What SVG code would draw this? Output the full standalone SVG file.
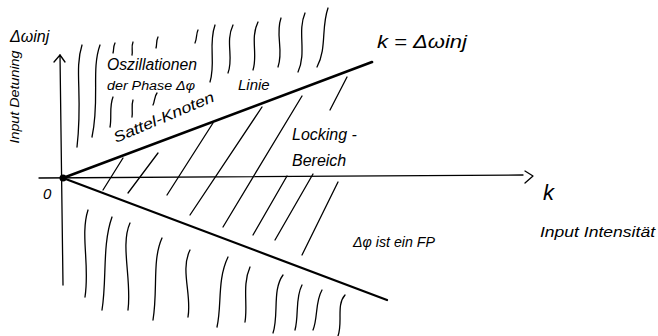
<svg xmlns="http://www.w3.org/2000/svg" width="658" height="336" viewBox="0 0 658 336">
<style>
.ln{fill:none;stroke:#000;stroke-width:1.3;stroke-linecap:round;stroke-linejoin:round}
.bd{fill:none;stroke:#000;stroke-width:2.6;stroke-linecap:round}
.t{font-family:"Liberation Sans","DejaVu Sans",sans-serif;font-style:italic;fill:#000}
</style>
<rect width="658" height="336" fill="#fff"/>
<g id="connectors">
  <g id="axes">
    <path class="ln" d="M63,285 L60,55"/>
    <path class="ln" d="M54,62 L60,55 L65,62"/>
    <path class="ln" d="M39,178 L523,175"/>
    <path class="ln" d="M525,171 L533,176 L525,183"/>
  </g>
  <g id="boundaries">
    <path class="bd" d="M63,178 L372,62"/>
    <path class="bd" style="stroke-width:2.2" d="M63,178 L387,300"/>
  </g>
  <g id="hatch">
    <path class="ln" d="M103,190 L123,158"/>
    <path class="ln" d="M128,193 L158,153"/>
    <path class="ln" d="M167,195 L213,123"/>
    <path class="ln" d="M190,215 L262,107"/>
    <path class="ln" d="M223,227 L302,96"/>
    <path class="ln" d="M253,235 L287,176"/>
    <path class="ln" d="M275,240 L313,174"/>
    <path class="ln" d="M302,255 L338,182"/>
    <path class="ln" d="M330,110 L347,77"/>
  </g>
  <g id="waves-upper">
    <path class="ln" d="M82,45 C74,70 83,95 77,147"/>
    <path class="ln" d="M100,45 C91,70 100,100 92,137"/>
    <path class="ln" d="M115,43 C113,47 114,50 113,53"/>
    <path class="ln" d="M133,42 C131,47 133,51 132,55"/>
    <path class="ln" d="M158,37 C156,41 157,45 156,48"/>
    <path class="ln" d="M113,97 C109,107 112,117 110,127"/>
    <path class="ln" d="M133,100 C131,106 133,111 132,117"/>
    <path class="ln" d="M157,93 C154,97 155,101 153,105"/>
    <path class="ln" d="M198,30 C196,34 197,39 195,43"/>
    <path class="ln" d="M215,25 C208,45 216,62 210,82"/>
    <path class="ln" d="M233,25 C225,42 234,58 228,73"/>
    <path class="ln" d="M258,22 C250,38 258,55 253,70"/>
    <path class="ln" d="M281,18 C275,35 284,50 278,67"/>
    <path class="ln" d="M305,13 C297,32 307,52 298,72"/>
    <path class="ln" d="M328,8 C321,28 327,48 317,67"/>
  </g>
  <g id="waves-lower">
    <path class="ln" d="M88,210 C80,235 90,265 85,297"/>
    <path class="ln" d="M112,217 C102,245 107,280 102,310"/>
    <path class="ln" d="M130,223 C120,245 132,280 128,310"/>
    <path class="ln" d="M162,238 C152,260 158,290 153,320"/>
    <path class="ln" d="M190,250 C180,270 192,295 188,317"/>
    <path class="ln" d="M228,257 C217,280 222,305 217,327"/>
    <path class="ln" d="M250,267 C242,285 248,305 245,322"/>
    <path class="ln" d="M283,275 C272,290 279,315 273,333"/>
    <path class="ln" d="M302,285 C295,298 299,315 295,330"/>
    <path class="ln" d="M322,290 C315,302 318,318 313,330"/>
    <path class="ln" d="M345,295 C336,305 343,322 338,336"/>
  </g>
  <circle id="origin-dot" cx="63" cy="178" r="3.5" fill="#000"/>
</g>
<g id="labels">
  <g id="lbl-y"><text class="t" x="10" y="42" font-size="16">Δωinj</text></g>
  <g id="lbl-y-name"><text class="t" transform="translate(19,97) rotate(-90)" text-anchor="middle" font-size="12" textLength="93" lengthAdjust="spacingAndGlyphs">Input Detuning</text></g>
  <g id="lbl-osc">
    <text class="t" x="107" y="70" font-size="16" textLength="90" lengthAdjust="spacingAndGlyphs">Oszillationen</text>
    <text class="t" x="107" y="90" font-size="12" textLength="88" lengthAdjust="spacingAndGlyphs">der Phase Δφ</text>
  </g>
  <g id="lbl-sn">
    <text class="t" transform="translate(116,143) rotate(-23)" font-size="15" textLength="108" lengthAdjust="spacingAndGlyphs">Sattel-Knoten</text>
    <text class="t" x="238" y="90" font-size="15">Linie</text>
  </g>
  <g id="lbl-k-eq"><text class="t" x="377" y="48" font-size="18" textLength="90" lengthAdjust="spacingAndGlyphs">k = Δωinj</text></g>
  <g id="lbl-lock">
    <text class="t" x="292" y="140" font-size="16">Locking -</text>
    <text class="t" x="292" y="166" font-size="16">Bereich</text>
  </g>
  <g id="lbl-x"><text class="t" x="543" y="200" font-size="22">k</text></g>
  <g id="lbl-x-name"><text class="t" x="540" y="237" font-size="14" textLength="115" lengthAdjust="spacingAndGlyphs">Input Intensität</text></g>
  <g id="lbl-fp"><text class="t" x="353" y="247" font-size="14" textLength="82" lengthAdjust="spacingAndGlyphs">Δφ ist ein FP</text></g>
  <g id="lbl-zero"><text class="t" x="43" y="199" font-size="15">0</text></g>
</g>
</svg>
